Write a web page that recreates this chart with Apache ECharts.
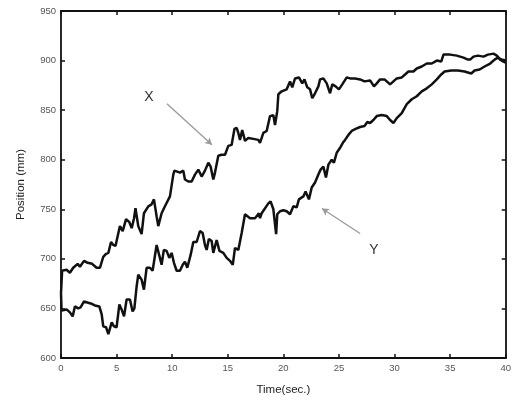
<!DOCTYPE html>
<html><head><meta charset="utf-8">
<script src="https://cdn.jsdelivr.net/npm/echarts@6/dist/echarts.min.js"></script>
<style>html,body{margin:0;padding:0;background:#fff}#c{width:514px;height:401px}</style>
</head><body><div id="c"></div>
<script>
// Time axis (sec.) and positions (mm)
const xTime=[0,0.1,0.5,0.8,1.1,1.5,1.7,2.07,2.4,2.8,3.2,3.5,3.8,4.05,4.26,4.5,4.7,4.9,5.16,5.3,5.55,5.85,6.15,6.36,6.57,6.7,6.95,7.25,7.46,7.85,8.15,8.36,8.6,8.75,9.05,9.35,9.5,9.8,10.1,10.2,10.7,11.0,11.15,11.45,11.75,12.05,12.35,12.65,12.95,13.25,13.46,13.7,13.85,14.15,14.45,14.75,15.05,15.35,15.6,15.8,15.95,16.1,16.3,16.55,16.85,17.3,17.75,17.9,18.2,18.5,18.8,19.1,19.25,19.45,19.55,19.85,20.3,20.6,20.8,21.05,21.4,21.7,21.9,22.15,22.4,22.6,22.85,23.15,23.3,23.6,23.9,24.2,24.4,24.7,25.0,25.3,25.7,26.0,26.45,26.9,27.3,27.8,28.15,28.4,28.7,29.1,29.6,29.9,30.2,30.65,30.95,31.25,31.7,32.0,32.45,32.9,33.35,33.8,34.2,34.4,35.0,35.6,36.2,36.6,36.8,37.1,37.5,38.0,38.4,38.9,39.2,39.5,39.8,40];
const xPos=[665,688,689,686,691,695,692,698,696,695,691,691,702,705,706,717,714,713,726,733,728,740,737,731,741,751,733,725,746,753,755,760,743,733,746,753,755,763,785,789,787,789,780,778,778,785,790,783,789,797,793,780,787,804,805,805,814,815,831,832,827,820,830,819,822,821,820,817,827,829,844,845,835,849,866,869,871,879,873,882,883,877,881,873,871,862,867,874,881,882,877,867,876,874,871,876,883,882,882,881,879,880,874,877,881,881,876,879,882,883,886,889,889,892,894,897,897,900,899,906,906,905,903,901,901,904,905,904,906,907,905,901,899,898];
const yTime=[0,0.05,0.2,0.5,0.8,1.05,1.25,1.55,1.76,2.07,2.37,2.67,3.05,3.45,3.66,3.8,4.05,4.26,4.56,4.76,5.0,5.25,5.45,5.67,5.9,6.2,6.44,6.6,6.8,6.95,7.25,7.46,7.7,8.0,8.24,8.6,8.85,9.05,9.25,9.5,9.74,9.95,10.16,10.4,10.7,10.95,11.15,11.36,11.66,11.9,12.2,12.5,12.74,12.95,13.1,13.3,13.55,13.7,14.0,14.25,14.6,14.9,15.2,15.45,15.65,15.95,16.25,16.55,17.0,17.45,17.8,17.9,18.05,18.2,18.65,18.85,19.1,19.35,19.45,19.7,20.0,20.3,20.6,20.9,21.2,21.4,21.8,22.0,22.3,22.55,22.85,23.15,23.35,23.6,23.83,24.05,24.35,24.55,24.8,25.1,25.35,25.55,25.85,26.15,26.5,26.9,27.3,27.55,27.8,28.1,28.4,28.85,29.3,29.6,29.9,30.2,30.65,31.1,31.55,32.0,32.45,32.9,33.35,33.8,34.2,34.5,35.1,35.7,36.3,36.9,37.2,37.65,38.1,38.6,39.0,39.3,39.6,40];
const yPos=[665,648,650,649,646,642,652,650,651,657,656,655,653,652,644,632,631,624,636,632,631,654,649,642,659,659,647,650,672,684,679,669,691,691,688,714,703,694,709,708,701,706,696,688,688,694,697,691,704,717,717,728,726,714,709,720,718,706,719,708,706,701,698,694,711,709,726,745,741,741,746,741,746,747,756,758,750,725,745,748,749,748,745,753,752,760,763,768,760,772,777,785,790,793,782,795,800,797,807,812,817,820,825,829,831,833,834,838,837,840,844,845,844,840,837,842,847,856,861,864,869,872,876,881,886,889,890,890,889,887,890,891,894,897,901,903,901,900];
const xTickMin=0, xTickMax=40, xTickStep=5;
const yTickMin=600, yTickMax=950, yTickStep=50;
const curveNames=['X','Y'];
const xAxisTitle='Time(sec.)';
const yAxisTitle='Position (mm)';

const chart=echarts.init(document.getElementById('c'),null,{renderer:'canvas'});
const font='Liberation Sans';
const axisBase={
  type:'value',
  axisLine:{show:true,onZero:false,lineStyle:{color:'#111',width:1.8}},
  axisTick:{show:true,inside:true,length:4,lineStyle:{color:'#111',width:1.5}},
  splitLine:{show:false}
};
function pairs(t,v){return t.map((x,i)=>[x,v[i]]);}
const lineStyle={color:'#111',width:2.5};
chart.setOption({
  animation:false,
  backgroundColor:'#fff',
  grid:{left:61,right:8,top:11,bottom:42,show:false},
  xAxis:[
    Object.assign({},axisBase,{min:xTickMin,max:xTickMax,interval:xTickStep,position:'bottom',
      axisLabel:{color:'#555',fontSize:9.5,margin:5,fontFamily:font},
      name:xAxisTitle,nameLocation:'middle',nameGap:26,
      nameTextStyle:{color:'#222',fontSize:11.5,fontFamily:font}}),
    Object.assign({},axisBase,{min:xTickMin,max:xTickMax,interval:xTickStep,position:'top',
      axisLabel:{show:false}})
  ],
  yAxis:[
    Object.assign({},axisBase,{min:yTickMin,max:yTickMax,interval:yTickStep,position:'left',
      axisLabel:{color:'#555',fontSize:9.5,margin:5,fontFamily:font},
      name:yAxisTitle,nameLocation:'middle',nameGap:34,
      nameTextStyle:{color:'#222',fontSize:11.5,fontFamily:font}}),
    Object.assign({},axisBase,{min:yTickMin,max:yTickMax,interval:yTickStep,position:'right',
      axisLabel:{show:false}})
  ],
  series:[
    {name:curveNames[0],type:'line',data:pairs(xTime,xPos),showSymbol:false,symbol:'none',lineStyle:lineStyle,
      markLine:{silent:true,symbol:['none','arrow'],symbolSize:[6,7],
        lineStyle:{color:'#9a9a9a',width:1.3,type:'solid'},label:{show:false},
        data:[[{coord:[9.53,856.5]},{coord:[13.58,815]}]]},
      markPoint:{silent:true,symbol:'circle',symbolSize:0,
        label:{show:true,position:'inside',formatter:curveNames[0],color:'#333',fontSize:14,fontFamily:font},
        data:[{coord:[7.9,863.5]}]}},
    {name:curveNames[1],type:'line',data:pairs(yTime,yPos),showSymbol:false,symbol:'none',lineStyle:lineStyle,
      markLine:{silent:true,symbol:['none','arrow'],symbolSize:[6,7],
        lineStyle:{color:'#9a9a9a',width:1.3,type:'solid'},label:{show:false},
        data:[[{coord:[26.9,725.6]},{coord:[23.47,750.8]}]]},
      markPoint:{silent:true,symbol:'circle',symbolSize:0,
        label:{show:true,position:'inside',formatter:curveNames[1],color:'#333',fontSize:14,fontFamily:font},
        data:[{coord:[28.15,708.5]}]}}
  ]
});
</script></body></html>
